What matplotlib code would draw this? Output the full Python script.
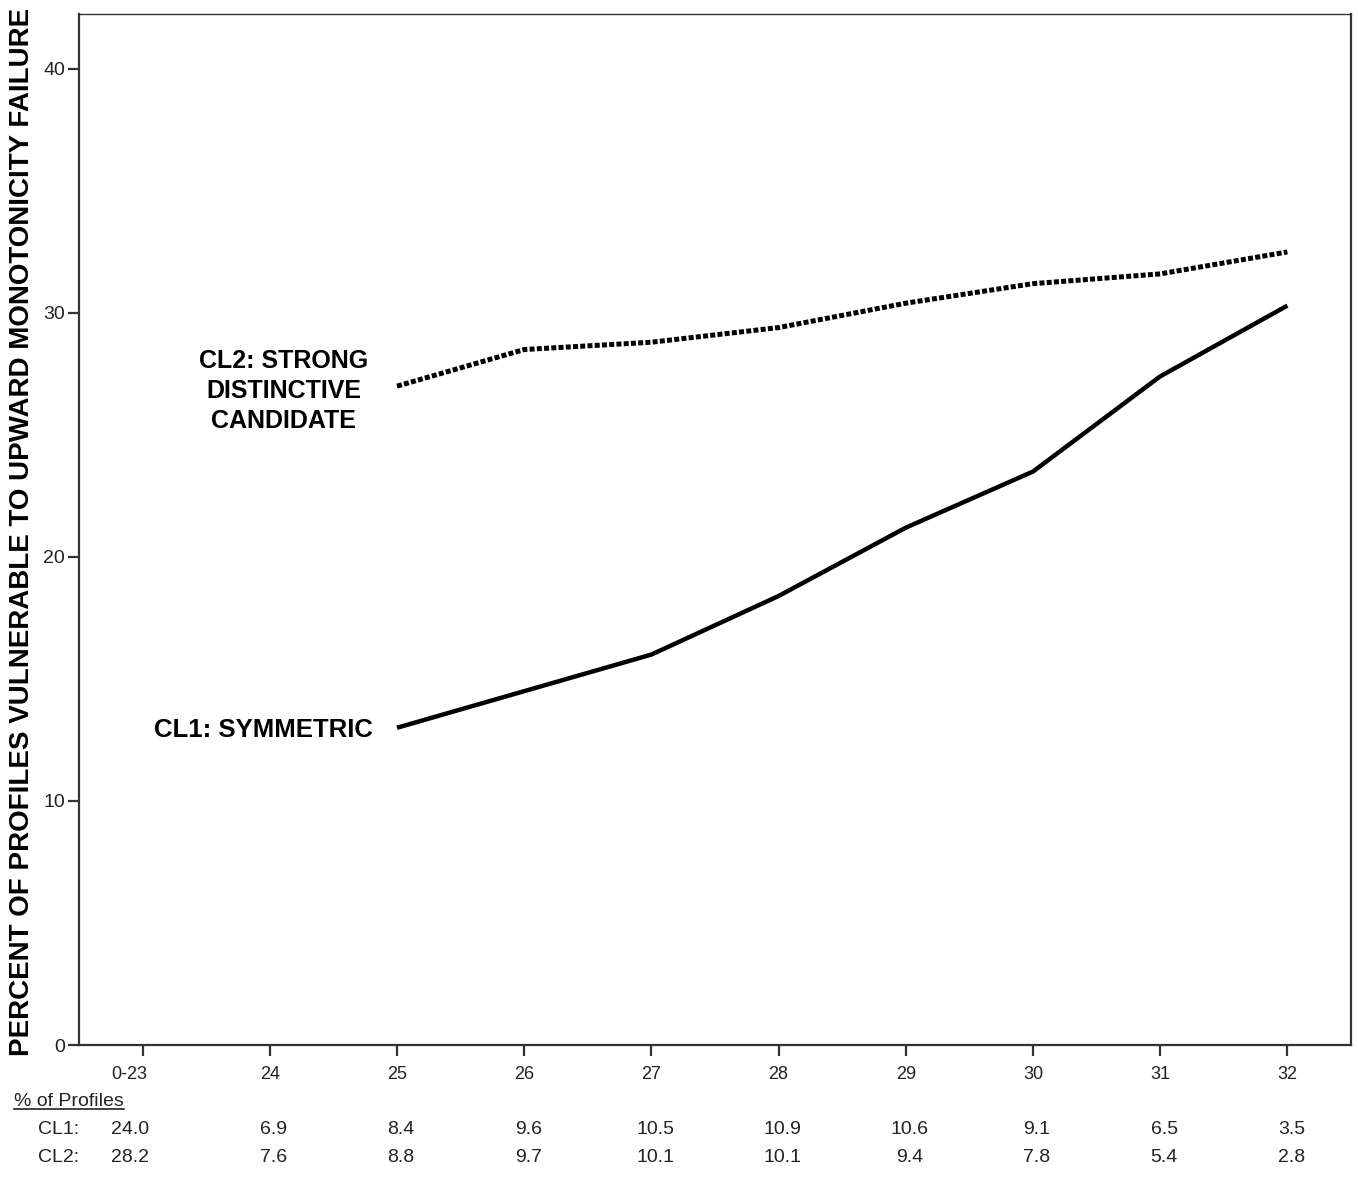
import numpy as np
import matplotlib
matplotlib.use("Agg")
import matplotlib.pyplot as plt
import matplotlib.transforms as mtransforms
from matplotlib.lines import Line2D

plt.rcParams["font.family"] = ["Liberation Sans", "DejaVu Sans"]

# data
categories = ["0-23", "24", "25", "26", "27", "28", "29", "30", "31", "32"]
cl1 = [np.nan, np.nan, 13.0, 14.5, 16.0, 18.4, 21.2, 23.5, 27.4, 30.3]
cl2 = [np.nan, np.nan, 27.0, 28.5, 28.8, 29.4, 30.4, 31.2, 31.6, 32.5]
pct_cl1 = ["24.0", "6.9", "8.4", "9.6", "10.5", "10.9", "10.6", "9.1", "6.5", "3.5"]
pct_cl2 = ["28.2", "7.6", "8.8", "9.7", "10.1", "10.1", "9.4", "7.8", "5.4", "2.8"]
y_ticks = [0, 10, 20, 30, 40]

W, H = 1358, 1177
fig = plt.figure(figsize=(W / 100, H / 100), dpi=100)
ax = fig.add_axes([79 / W, 1 - 1045 / H, (1351 - 79) / W, (1045 - 14) / H])

x = np.arange(len(categories))
ax.plot(x, cl1, color="black", lw=3.2, solid_capstyle="butt", solid_joinstyle="round")
ax.plot(x, cl2, color="black", lw=3.6, linestyle=(0, (1, 0.45)), dash_capstyle="butt")

ax.set_xlim(-0.5, 9.5)
ax.set_ylim(0, 42.25)
ax.set_yticks(y_ticks)
ax.set_xticks(x)
ax.set_xticklabels(categories)

for side in ["left", "bottom", "right"]:
    ax.spines[side].set_linewidth(1.6)
    ax.spines[side].set_color("#333333")
ax.spines["top"].set_linewidth(1.0)
ax.spines["top"].set_color("#333333")

ax.tick_params(axis="y", length=8, width=1.6, color="#333333", pad=2,
               labelsize=14, labelcolor="#222222")
ax.tick_params(axis="x", length=8, width=1.6, color="#333333", pad=7,
               labelsize=13, labelcolor="#222222")

# shift the first category label a bit left, as in the original
shift = mtransforms.ScaledTranslation(-13 / 100, 0, fig.dpi_scale_trans)
first = ax.get_xticklabels()[0]
first.set_transform(first.get_transform() + shift)

fig.text(22 / W, 1 - 532 / H,
         "PERCENT OF PROFILES VULNERABLE TO UPWARD MONOTONICITY FAILURE",
         rotation=90, ha="center", va="center", fontsize=20, fontweight="bold")

# line labels
ax.text(1.11, 26.8, "CL2: STRONG\nDISTINCTIVE\nCANDIDATE", ha="center", va="center",
        fontsize=18, fontweight="bold", linespacing=1.3)
ax.text(1.81, 12.9, "CL1: SYMMETRIC", ha="right", va="center",
        fontsize=18.5, fontweight="bold")

# table below the axis
title = fig.text(14 / W, 1 - 1101 / H, "% of Profiles", ha="left", va="center",
                 fontsize=14, color="#222222")
fig.text(38 / W, 1 - 1130 / H, "CL1:", ha="left", va="center", fontsize=14, color="#222222")
fig.text(38 / W, 1 - 1157 / H, "CL2:", ha="left", va="center", fontsize=14, color="#222222")

trans = mtransforms.blended_transform_factory(ax.transData, fig.transFigure)
for i, (a, b) in enumerate(zip(pct_cl1, pct_cl2)):
    dx = -13 if i == 0 else 4
    off = mtransforms.ScaledTranslation(dx / 100, 0, fig.dpi_scale_trans)
    ax.text(x[i], 1 - 1130 / H, a, transform=trans + off, ha="center", va="center",
            fontsize=14, color="#222222")
    ax.text(x[i], 1 - 1157 / H, b, transform=trans + off, ha="center", va="center",
            fontsize=14, color="#222222")

# underline "% of Profiles"
fig.canvas.draw()
bb = title.get_window_extent().transformed(fig.transFigure.inverted())
fig.add_artist(Line2D([bb.x0, bb.x1], [bb.y0 + 1 / H, bb.y0 + 1 / H],
                      transform=fig.transFigure, color="#222222", lw=1.2))

fig.savefig("out.png", dpi=100)
